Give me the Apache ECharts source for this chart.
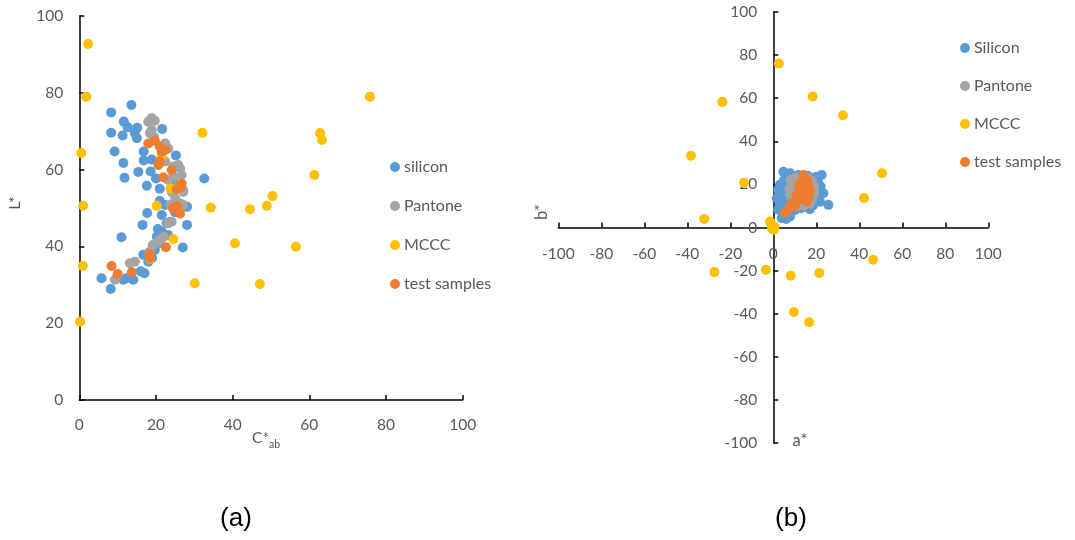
<!DOCTYPE html>
<html><head><meta charset="utf-8">
<script src="https://cdn.jsdelivr.net/npm/echarts@6/dist/echarts.min.js"></script>
<style>html,body{margin:0;padding:0;background:#fff}#c{width:1075px;height:540px}</style>
</head><body><div id="c"></div>
<script>
// ---- Data: chart (a) C*ab vs L* ----
const siliconCL = [[8.3,74.9],[13.6,76.8],[11.6,72.5],[12.6,71.0],[8.3,69.6],[11.3,68.9],[15.1,70.9],[15.0,68.2],[9.2,64.7],[16.8,64.7],[16.8,62.4],[18.9,62.6],[11.5,61.7],[15.4,59.4],[18.6,59.5],[11.8,57.9],[20.0,57.7],[17.6,55.8],[21.0,55.0],[21.6,70.6],[25.2,63.7],[32.6,57.7],[21.0,51.9],[17.7,48.7],[16.5,45.6],[21.5,48.2],[28.1,50.3],[28.1,45.6],[11.0,42.4],[22.8,46.0],[21.5,43.8],[20.2,42.5],[21.0,40.9],[23.1,43.0],[27.0,39.7],[16.7,37.8],[18.0,36.0],[17.0,33.0],[5.8,31.7],[8.2,28.9],[11.5,31.3],[14.1,31.3],[19.7,39.1],[19.0,37.0],[23.7,46.4],[25.0,48.9],[22.4,50.8],[14.5,69.5],[20.5,44.5],[19.2,40.2],[18.5,38.5],[24.5,57.0],[16.0,33.5],[12.5,31.8]];
const pantoneCL = [[18.0,72.5],[19.7,72.7],[18.9,73.4],[18.9,70.3],[18.4,69.5],[19.5,68.5],[22.4,66.8],[23.2,65.5],[22.4,62.1],[24.5,60.8],[25.8,61.2],[26.3,60.3],[24.5,58.2],[26.7,58.6],[23.2,57.3],[27.1,54.7],[24.1,54.2],[27.1,54.2],[23.7,50.8],[26.3,51.2],[27.1,50.8],[24.1,46.4],[23.2,46.0],[21.0,41.7],[19.3,40.4],[18.4,38.6],[14.5,36.0],[13.2,35.6],[9.3,31.3],[10.0,32.5],[20.3,41.0],[22.0,42.5],[25.0,52.5],[26.0,56.0]];
const mcccCL = [[2.3,92.7],[1.8,79.0],[0.5,64.3],[1.0,50.6],[0.9,34.9],[0.2,20.4],[32.1,69.6],[75.8,79.0],[62.8,69.5],[63.3,67.7],[61.3,58.6],[50.4,53.1],[48.9,50.6],[44.5,49.7],[34.3,50.1],[40.6,40.8],[56.5,39.9],[30.1,30.4],[47.1,30.2],[20.2,50.6],[24.5,41.9],[18.4,36.7],[23.8,55.1],[21.5,63.4]];
const testCL = [[18.0,66.8],[19.7,67.5],[21.0,66.0],[21.5,64.7],[22.4,65.1],[21.0,62.1],[20.6,61.2],[24.1,59.9],[21.9,58.0],[26.7,56.4],[26.3,55.5],[25.4,54.9],[24.5,49.9],[26.3,48.6],[22.6,39.8],[18.3,38.0],[18.4,37.0],[8.4,34.9],[10.0,32.8],[13.7,33.3],[25.5,50.5]];

// ---- Data: chart (b) a* vs b* ----
const siliconAB = [[4.7,25.9],[7.8,25.2],[11.6,24.4],[16,24],[20,23.5],[22.5,24.4],[3.1,19.8],[2.3,17.5],[1.6,13.6],[2.3,8.2],[3.9,4.3],[6,4],[7.8,5.1],[5.4,12.8],[4,17],[6,21],[23.3,15.9],[21.7,12],[25.6,10.5],[16.3,9.7],[18.6,10.5],[20.2,13.6],[19.4,19],[21,20.5],[18,10],[13,9],[10,8],[9,11],[8,15],[7,18],[12,20],[15,14],[19,14],[21,17],[22,19],[17,8.5],[11,12],[6,10],[3,16],[5,22],[9,23],[13,22],[14,9.5],[4.5,7],[3,11]];
const pantoneAB = [[8,22],[10,23],[13,23.5],[16,23],[18,21.5],[19,19],[19,16],[18,13],[17,11],[9,19],[8,15],[9,12],[11,10],[13,12],[14,18],[12,16],[15,20],[17,17],[11,21],[10,14],[14,10],[16,14],[7.5,18],[12,11]];
const mcccAB = [[2.6,76.1],[-23.7,58.3],[18.3,60.8],[32.4,52.1],[-38.3,33.3],[50.6,25.2],[-13.6,20.8],[42.2,13.7],[-32.1,4.0],[-1.5,2.8],[-0.3,0.5],[-0.5,-0.5],[0.2,-1],[-1,1.5],[0.5,0.3],[-27.4,-20.7],[-3.4,-19.6],[8.1,-22.4],[21.4,-21.1],[9.6,-39.2],[16.7,-44.0],[46.4,-15.0],[12,14],[15,13]];
const testAB = [[14,24.4],[15.5,22],[13,21],[16,20.5],[12.4,17.5],[17.1,17.5],[14,19],[15,16],[15.5,12],[11.6,12.8],[13,14.5],[8.6,11.3],[10,10],[6.2,7.4],[5.4,6.7],[7,8.5],[16.5,14.5],[12,19.5],[14.5,13.5],[11,15]];

const legendA = ['silicon','Pantone','MCCC','test samples'];
const legendB = ['Silicon','Pantone','MCCC','test samples'];

const COLORS = {blue:'#5B9BD5', gray:'#A5A5A5', yellow:'#FFC000', orange:'#ED7D31'};
const FONT = 'Lato';
const TXT = '#595959';

function axis(gi, min, max, extra) {
  return Object.assign({
    type:'value', gridIndex: gi, min: min, max: max, interval: 20,
    splitLine:{show:false},
    axisLine:{show:true, onZero:false, lineStyle:{color:'#000', width:1.5}},
    axisTick:{show:true, inside:true, length:5, lineStyle:{color:'#000', width:1.5}},
    axisLabel:{color:TXT, fontFamily:FONT, fontSize:15.5, margin:17}
  }, extra || {});
}
function sc(name, xi, data, color) {
  return {type:'scatter', name:name, xAxisIndex:xi, yAxisIndex:xi, data:data,
    symbol:'circle', symbolSize:10, itemStyle:{color:color, opacity:1}, silent:true};
}

const G2 = {left:558.3, top:12, width:430, height:431};

const chart = echarts.init(document.getElementById('c'), null, {renderer:'canvas'});
chart.setOption({
  animation:false,
  grid:[
    {left:79.3, top:16, width:383.4, height:384},
    G2
  ],
  xAxis:[
    axis(0, 0, 100),
    axis(1, -100, 100, {position:'bottom', offset:-G2.height/2,
      axisLabel:{color:TXT, fontFamily:FONT, fontSize:15.5, margin:18}})
  ],
  yAxis:[
    axis(0, 0, 100, {axisLabel:{color:TXT, fontFamily:FONT, fontSize:15.5, margin:16}}),
    axis(1, -100, 100, {position:'left', offset:-G2.width/2, axisLabel:{color:TXT, fontFamily:FONT, fontSize:15.5, margin:16}})
  ],
  legend:[
    {data:legendA, orient:'vertical', left:385, top:153, icon:'circle', itemWidth:10, itemHeight:10,
     itemGap:21, textStyle:{color:TXT, fontFamily:FONT, fontSize:16, lineHeight:18, padding:[0,0,0,-1]}, selectedMode:false},
    {data:legendB, orient:'vertical', left:955, top:34, icon:'circle', itemWidth:10, itemHeight:10,
     itemGap:20, textStyle:{color:TXT, fontFamily:FONT, fontSize:16, lineHeight:18, padding:[0,0,0,-1]}, selectedMode:false}
  ],
  series:[
    sc('silicon', 0, siliconCL, COLORS.blue),
    sc('Pantone', 0, pantoneCL, COLORS.gray),
    sc('MCCC', 0, mcccCL, COLORS.yellow),
    sc('test samples', 0, testCL, COLORS.orange),
    sc('Silicon', 1, siliconAB, COLORS.blue),
    sc('Pantone', 1, pantoneAB, COLORS.gray),
    sc('MCCC', 1, mcccAB, COLORS.yellow),
    sc('test samples', 1, testAB, COLORS.orange)
  ],
  graphic:[
    {type:'text', x:15, y:203, rotation:Math.PI/2, style:{text:'L*', fill:TXT, font:'16px '+FONT, textAlign:'center', textVerticalAlign:'middle'}},
    {type:'text', x:252, y:440, style:{text:'{m|C*}{s|ab}', fill:TXT, textVerticalAlign:'middle',
      rich:{m:{fontFamily:FONT, fontSize:15.5, fill:TXT, verticalAlign:'top'}, s:{fontFamily:FONT, fontSize:10.5, fill:TXT, padding:[10,0,0,0]}}}},
    {type:'text', x:542, y:212, rotation:Math.PI/2, style:{text:'b*', fill:TXT, font:'16.5px '+FONT, textAlign:'center', textVerticalAlign:'middle'}},
    {type:'text', x:800, y:441, style:{text:'a*', fill:TXT, font:'16.5px '+FONT, textAlign:'center', textVerticalAlign:'middle'}},
    {type:'text', x:236, y:519, style:{text:'(a)', fill:'#000', font:'26px "Liberation Sans", Arial', textAlign:'center', textVerticalAlign:'middle'}},
    {type:'text', x:791, y:519, style:{text:'(b)', fill:'#000', font:'26px "Liberation Sans", Arial', textAlign:'center', textVerticalAlign:'middle'}}
  ]
});
</script></body></html>
